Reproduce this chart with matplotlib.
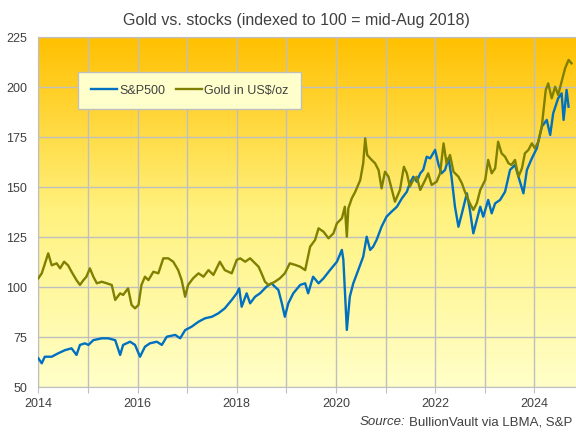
import matplotlib
matplotlib.use("Agg")
import matplotlib.pyplot as plt
import numpy as np
from matplotlib.colors import LinearSegmentedColormap

plt.rcParams['font.family'] = ['Liberation Sans', 'DejaVu Sans']

# values, time as decimal year
spx_t = [2014.00, 2014.07, 2014.13, 2014.27, 2014.40, 2014.54, 2014.67, 2014.77, 2014.84, 2014.94,
         2015.01, 2015.11, 2015.28, 2015.41, 2015.55, 2015.65, 2015.71, 2015.85, 2015.95, 2016.05,
         2016.15, 2016.25, 2016.39, 2016.49, 2016.59, 2016.76, 2016.86, 2016.96, 2017.09, 2017.23,
         2017.36, 2017.50, 2017.63, 2017.76, 2017.90, 2018.00, 2018.05, 2018.10, 2018.20, 2018.27,
         2018.37, 2018.47, 2018.60, 2018.70, 2018.77, 2018.84, 2018.91, 2018.97, 2019.04, 2019.14,
         2019.28, 2019.38, 2019.44, 2019.54, 2019.65, 2019.75, 2019.88, 2020.02, 2020.12, 2020.15,
         2020.17, 2020.22, 2020.28, 2020.35, 2020.45, 2020.55, 2020.62, 2020.69, 2020.75, 2020.82,
         2020.92, 2021.02, 2021.12, 2021.23, 2021.33, 2021.43, 2021.49, 2021.56, 2021.63, 2021.70,
         2021.76, 2021.83, 2021.90, 2022.00, 2022.07, 2022.13, 2022.20, 2022.27, 2022.33, 2022.40,
         2022.47, 2022.54, 2022.64, 2022.70, 2022.77, 2022.84, 2022.91, 2022.97, 2023.07, 2023.14,
         2023.21, 2023.31, 2023.41, 2023.51, 2023.61, 2023.68, 2023.78, 2023.85, 2023.95, 2024.05,
         2024.15, 2024.25, 2024.32, 2024.38, 2024.48, 2024.55, 2024.59, 2024.65, 2024.69]
spx_v = [64.5, 62.0, 65.3, 65.3, 67.0, 68.6, 69.5, 66.2, 71.2, 72.0,
         71.2, 73.6, 74.5, 74.5, 73.6, 66.2, 71.2, 72.8, 71.2, 65.3,
         70.3, 72.0, 72.8, 71.2, 75.3, 76.2, 74.5, 78.6, 80.3, 82.8,
         84.5, 85.3, 87.0, 89.5, 93.7, 97.0, 99.5, 90.3, 97.0, 92.0,
         95.3, 97.0, 100.3, 102.0, 100.3, 98.7, 92.0, 85.3, 92.0, 97.0,
         101.2, 102.0, 97.0, 105.3, 102.0, 104.5, 108.6, 112.8, 118.7, 113.7,
         103.7, 78.7, 95.3, 102.0, 108.6, 115.3, 125.3, 118.7, 120.3, 123.7,
         130.3, 135.3, 137.8, 140.3, 144.5, 147.8, 152.0, 155.3, 152.8, 157.0,
         158.7, 165.3, 164.5, 168.7, 161.2, 157.0, 158.7, 164.5, 155.3, 140.3,
         130.3, 137.0, 147.0, 138.7, 127.0, 133.7, 140.3, 135.3, 143.7, 137.0,
         142.0, 143.7, 147.8, 158.7, 161.2, 155.3, 147.0, 158.7, 164.5, 169.5,
         180.3, 183.7, 176.2, 187.0, 194.5, 197.0, 183.7, 198.7, 190.3]

gold_t = [2014.00, 2014.07, 2014.20, 2014.27, 2014.37, 2014.44, 2014.52, 2014.60, 2014.67, 2014.77,
          2014.84, 2014.91, 2014.97, 2015.04, 2015.11, 2015.18, 2015.28, 2015.38, 2015.48, 2015.55,
          2015.65, 2015.71, 2015.81, 2015.88, 2015.95, 2016.02, 2016.08, 2016.15, 2016.22, 2016.32,
          2016.42, 2016.52, 2016.62, 2016.72, 2016.82, 2016.89, 2016.96, 2017.02, 2017.12, 2017.23,
          2017.33, 2017.43, 2017.53, 2017.66, 2017.76, 2017.90, 2018.00, 2018.07, 2018.17, 2018.27,
          2018.37, 2018.44, 2018.50, 2018.57, 2018.64, 2018.71, 2018.77, 2018.87, 2018.97, 2019.07,
          2019.18, 2019.28, 2019.38, 2019.48, 2019.58, 2019.65, 2019.75, 2019.85, 2019.95, 2020.02,
          2020.12, 2020.18, 2020.22, 2020.25, 2020.32, 2020.39, 2020.49, 2020.55, 2020.59, 2020.63,
          2020.72, 2020.79, 2020.86, 2020.92, 2020.99, 2021.06, 2021.13, 2021.19, 2021.29, 2021.37,
          2021.43, 2021.49, 2021.56, 2021.63, 2021.70, 2021.80, 2021.86, 2021.93, 2022.03, 2022.10,
          2022.17, 2022.23, 2022.30, 2022.37, 2022.47, 2022.54, 2022.60, 2022.70, 2022.77, 2022.84,
          2022.91, 2023.01, 2023.07, 2023.14, 2023.21, 2023.27, 2023.34, 2023.41, 2023.48, 2023.54,
          2023.61, 2023.68, 2023.75, 2023.81, 2023.88, 2023.95, 2024.01, 2024.08, 2024.15, 2024.23,
          2024.28, 2024.35, 2024.42, 2024.48, 2024.55, 2024.62, 2024.69, 2024.75]
gold_v = [104.5, 107.0, 117.0, 111.0, 112.0, 109.5, 112.8, 111.0, 107.8, 103.6,
          101.2, 103.6, 105.3, 109.5, 105.3, 102.0, 102.8, 102.0, 101.2, 93.7,
          97.0, 96.2, 99.5, 91.2, 89.5, 91.2, 101.2, 105.3, 103.6, 107.8,
          107.0, 114.5, 114.5, 112.8, 108.6, 103.6, 95.3, 101.2, 104.5, 107.0,
          105.3, 108.6, 106.2, 112.8, 108.6, 107.0, 113.7, 114.5, 112.8, 114.5,
          112.0, 110.3, 107.0, 102.8, 101.2, 102.0, 102.8, 104.5, 107.0, 112.0,
          111.2, 110.3, 108.6, 120.3, 123.7, 129.5, 127.8, 124.5, 127.0, 132.0,
          134.5, 140.3, 125.3, 139.5, 144.5, 147.8, 153.6, 162.0, 174.5, 166.2,
          163.7, 162.0, 158.6, 149.5, 157.8, 155.3, 148.6, 142.8, 148.6, 160.3,
          157.0, 150.3, 153.7, 155.3, 148.7, 153.7, 157.0, 151.2, 152.8, 157.0,
          172.0, 162.0, 166.2, 157.8, 155.3, 152.0, 147.8, 142.0, 138.7, 142.0,
          148.7, 153.7, 163.7, 157.0, 159.5, 172.8, 167.0, 165.3, 162.0, 161.2,
          163.7, 155.3, 159.5, 167.0, 168.7, 172.0, 169.5, 172.8, 180.3, 198.7,
          202.0, 194.5, 200.3, 196.2, 202.8, 209.5, 213.7, 212.0]

years = list(range(2014, 2025))
year_labels = [str(y) if y % 2 == 0 else "" for y in years]
y_ticks = [50, 75, 100, 125, 150, 175, 200, 225]

grey = "#BFBFBF"
txt = "#404040"

fig = plt.figure(figsize=(5.76, 4.33), dpi=100)
ax = fig.add_axes([0.0665, 0.1055, 0.9335, 0.8083])

# background gradient, orange at the top, pale yellow at the bottom
bg = LinearSegmentedColormap.from_list("bg", [(0.0, "#FFFFC8"), (0.5, "#FFF27F"), (1.0, "#FFC000")])
grad = np.linspace(0, 1, 256).reshape(-1, 1)
ax.imshow(grad, cmap=bg, origin="lower", aspect="auto", extent=[0, 1, 0, 1],
          transform=ax.transAxes, zorder=0)

ax.plot(spx_t, spx_v, color="#0070C0", lw=1.7, label="S&P500", zorder=3)
ax.plot(gold_t, gold_v, color="#808000", lw=1.7, label="Gold in US$/oz", zorder=3)

ax.set_xlim(2014, 2024.84)
ax.set_ylim(50, 225)
ax.set_xticks(years)
ax.set_xticklabels(year_labels)
ax.set_yticks(y_ticks)
ax.set_axisbelow(True)
ax.grid(True, color=grey, lw=1)
ax.tick_params(axis="x", colors=grey, labelcolor=txt, labelsize=9, length=4, pad=4)
ax.tick_params(axis="y", length=0, labelcolor=txt, labelsize=9, pad=8)
for side in ["left", "bottom", "top"]:
    ax.spines[side].set_color(grey)
ax.spines["right"].set_visible(False)

leg = ax.legend(loc="upper left", bbox_to_anchor=(0.0744, 0.9), ncol=2, frameon=True,
                fancybox=False, borderaxespad=0, fontsize=9, handlelength=2.1,
                handletextpad=0.2, columnspacing=0.8, borderpad=1.0)
leg.get_frame().set_facecolor("#FFFFCC")
leg.get_frame().set_edgecolor(grey)
leg.get_frame().set_alpha(1)
for t in leg.get_texts():
    t.set_color(txt)

fig.text(0.514, 0.953, "Gold vs. stocks (indexed to 100 = mid-Aug 2018)", ha="center", va="center",
         fontsize=11.5, color=txt)

# source line: italic "Source:" placed just left of the plain part
src = fig.text(0.993, 0.025, "BullionVault via LBMA, S&P", ha="right", va="center",
               fontsize=9.5, color=txt)
fig.canvas.draw()
bb = src.get_window_extent().transformed(fig.transFigure.inverted())
fig.text(bb.x0 - 0.006, 0.025, "Source:", ha="right", va="center", fontsize=9.5,
         color=txt, style="italic")

fig.savefig("out.png", dpi=100)
